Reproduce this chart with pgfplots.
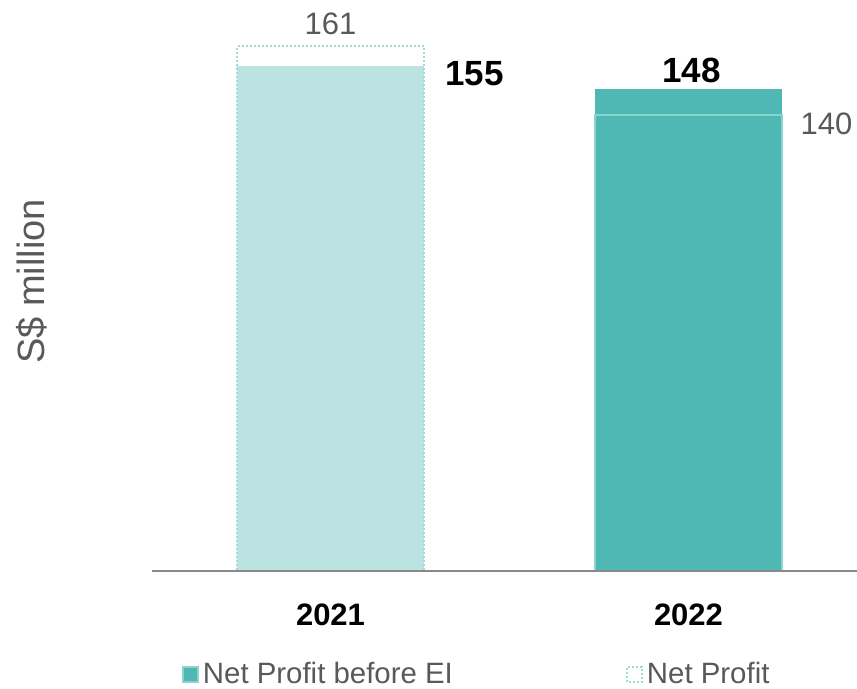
\documentclass[border=0pt]{standalone}
\usepackage{fontspec}
\setmainfont{Liberation Sans}
\usepackage{pgfplots}
\pgfplotsset{compat=1.18}

\definecolor{lightteal}{RGB}{186,227,225}
\definecolor{tealbar}{RGB}{79,184,181}
\definecolor{dotline}{RGB}{160,218,216}
\definecolor{npline}{RGB}{140,212,208}
\definecolor{txtgray}{RGB}{89,89,89}
\definecolor{axgray}{RGB}{137,137,137}
\newcommand{\lbl}{\fontsize{15.5}{18}\selectfont}
\newcommand{\vlbl}{\fontsize{17.5}{20}\selectfont}
\newcommand{\leglbl}{\fontsize{14.7}{17}\selectfont}

\begin{document}
\begin{tikzpicture}
\begin{axis}[
    scale only axis,
    width=352.5pt, height=280.2pt,
    xmin=-0.4986, xmax=1.4707,
    ymin=0, ymax=172,
    axis x line*=bottom,
    axis y line=none,
    x axis line style={axgray, line width=1pt},
    xtick={0,1}, xticklabels={2021,2022},
    major tick length=0pt,
    xticklabel style={font=\bfseries\lbl, text=black, anchor=base, yshift=-27pt},
    ytick=\empty,
    bar width=0.5223,
    clip=false,
    axis on top,
    point meta=explicit symbolic,
    legend columns=2,
    legend style={at={(0.0426,0)}, anchor=west, yshift=-51.75pt,
        draw=none, fill=none, inner sep=0pt, font=\leglbl, text=txtgray,
        /tikz/every even column/.append style={column sep=84.5pt}},
]

% legend entries
\addlegendimage{legend image code/.code={\draw[fill=tealbar, draw=npline, line width=0.75pt] (-1.5pt,-3.75pt) rectangle (6pt,3.75pt);}}
\addlegendentry{Net Profit before EI}
\addlegendimage{legend image code/.code={\draw[fill=white, draw=dotline, line width=1pt, dash pattern=on 1pt off 1pt] (-1.5pt,-3.75pt) rectangle (6pt,3.75pt);}}
\addlegendentry{Net Profit}

% Net Profit before EI
\addplot[ybar, bar shift=0pt, fill=lightteal, draw=none, forget plot,
    nodes near coords,
    nodes near coords style={font=\bfseries\vlbl, text=black, anchor=center, xshift=72pt, yshift=-3.75pt}]
coordinates {(0,155) [155]};
\addplot[ybar, bar shift=0pt, fill=tealbar, draw=none, forget plot,
    nodes near coords,
    nodes near coords style={font=\bfseries\vlbl, text=black, anchor=center, xshift=1.5pt, yshift=9pt}]
coordinates {(1,148) [148]};

% Net Profit
\addplot[ybar, bar shift=0pt, fill=none, draw=dotline, line width=1pt, dash pattern=on 1pt off 1pt, forget plot,
    nodes near coords,
    nodes near coords style={font=\lbl, text=txtgray, anchor=center, yshift=11.5pt}]
coordinates {(0,161) [161]};
\addplot[ybar, bar shift=0pt, fill=none, draw=npline, line width=0.75pt, forget plot,
    nodes near coords,
    nodes near coords style={font=\lbl, text=txtgray, anchor=center, xshift=69pt, yshift=-4.25pt}]
coordinates {(1,140) [140]};

\node[rotate=90, font=\fontsize{19}{22}\selectfont, text=txtgray]
    at ([xshift=-60pt, yshift=144.75pt]rel axis cs:0,0) {S\$ million};
\end{axis}
\pgfresetboundingbox
\path ([shift={(-76pt,-58.5pt)}]current axis.south west) rectangle ([shift={(0pt,5.3pt)}]current axis.north east);
\end{tikzpicture}
\end{document}
